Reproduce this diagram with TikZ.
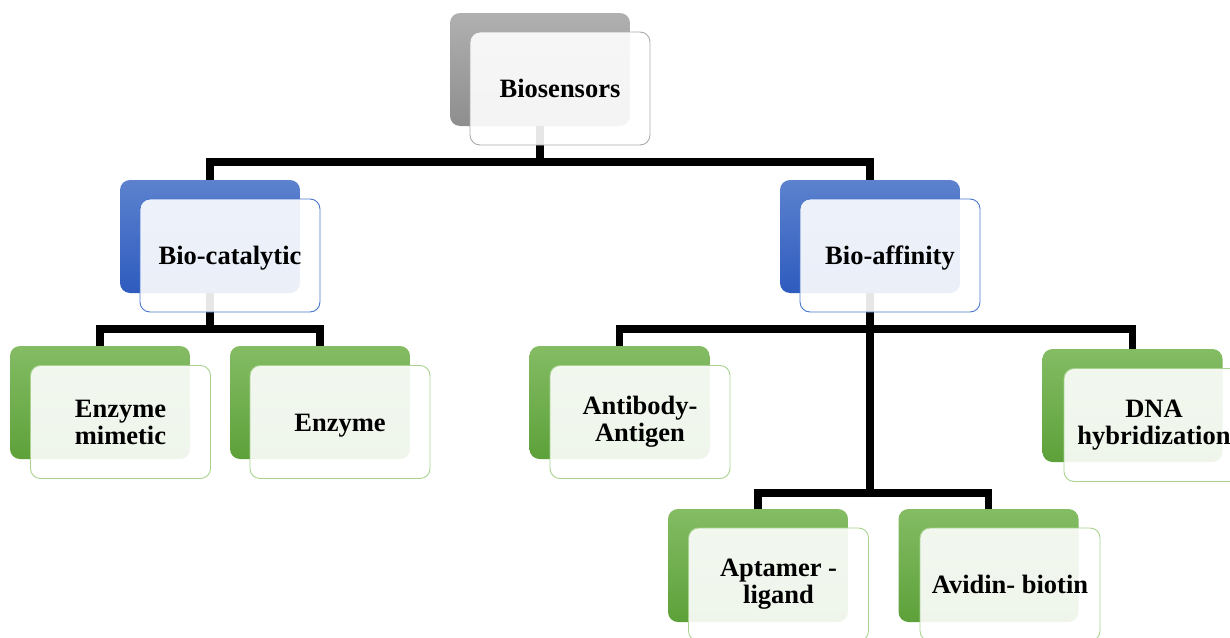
\documentclass[tikz,border=0pt]{standalone}
\usepackage{fontspec}
\setmainfont{Liberation Serif}
\usetikzlibrary{calc,backgrounds}
\definecolor{grayT}{HTML}{B0B0B0}
\definecolor{grayB}{HTML}{8E8E8E}
\definecolor{blueT}{HTML}{5C82CE}
\definecolor{blueB}{HTML}{2E5BBE}
\definecolor{greenT}{HTML}{84BC64}
\definecolor{greenB}{HTML}{5DA13A}
\definecolor{grayE}{HTML}{ABABAB}
\definecolor{blueE}{HTML}{4A78CC}
\definecolor{greenE}{HTML}{A8D28E}
\newcommand{\lowertxt}[2]{\raisebox{-#1}[\height][\depth]{#2}}
\begin{document}
\begin{tikzpicture}[x=1pt,y=-1pt,
  backbox/.style={rounded corners=10pt, minimum width=180pt, minimum height=113pt, inner sep=0pt, draw=none},
  grayback/.style={backbox, top color=grayT, bottom color=grayB},
  blueback/.style={backbox, top color=blueT, bottom color=blueB},
  greenback/.style={backbox, top color=greenT, bottom color=greenB},
  frontbox/.style={rounded corners=10pt, minimum width=180pt, minimum height=113pt, inner sep=0pt,
    fill=white, fill opacity=0.9, text opacity=1, draw opacity=1, line width=0.9pt, align=center,
    font=\fontsize{26.5}{27}\selectfont\bfseries},
  grayfront/.style={frontbox, draw=grayE},
  bluefront/.style={frontbox, draw=blueE},
  greenfront/.style={frontbox, draw=greenE},
  conn/.style={line width=7.5pt, draw=black, line join=miter}]
\useasboundingbox (0,0) rectangle (1230,637);
% bus levels
\coordinate (b1) at (0,162);
\coordinate (b2) at (0,329);
\coordinate (b3) at (0,493);
% back boxes
\node[grayback]  (bioB) at (540,69.5) {};
\node[blueback]  (catB) at (210,236.5) {};
\node[blueback]  (affB) at (870,236.5) {};
\node[greenback] (emB)  at (100,402.5) {};
\node[greenback] (enB)  at (320,402.5) {};
\node[greenback] (abB)  at (619.5,402.5) {};
\node[greenback] (dnaB) at (1132.5,405.5) {};
\node[greenback] (apB)  at (758,565.5) {};
\node[greenback] (avB)  at (988.5,565.5) {};
% connectors behind the boxes
\begin{scope}[on background layer]
\fill[white] (0,0) rectangle (1230,637);
\draw[conn] (bioB.center) -- (bioB.center |- b1);
\draw[conn] (catB.north) -- (catB.north |- b1) -- (affB.north |- b1) -- (affB.north);
\draw[conn] (catB.center) -- (catB.center |- b2);
\draw[conn] (emB.north) -- (emB.north |- b2) -- (enB.north |- b2) -- (enB.north);
\draw[conn] (affB.center) -- (affB.center |- b3);
\draw[conn] (abB.north) -- (abB.north |- b2) -- (dnaB.north |- b2) -- (dnaB.north);
\draw[conn] (apB.north) -- (apB.north |- b3) -- (avB.north |- b3) -- (avB.north);
\end{scope}
% front boxes
\node[grayfront]  (bio) at ($(bioB)+(20,19)$) {Biosensors};
\node[bluefront]  (cat) at ($(catB)+(20,19)$) {\lowertxt{3pt}{Bio-catalytic}};
\node[bluefront]  (aff) at ($(affB)+(20,19)$) {\lowertxt{3pt}{Bio-affinity}};
\node[greenfront] (em)  at ($(emB)+(20.5,19.5)$) {Enzyme\\mimetic};
\node[greenfront] (en)  at ($(enB)+(20,19.5)$) {\lowertxt{4pt}{Enzyme}};
\node[greenfront] (ab)  at ($(abB)+(20.5,19.5)$) {Antibody-\\Antigen};
\node[greenfront] (dna) at ($(dnaB)+(21.5,19.5)$) {DNA\\hybridization};
\node[greenfront] (ap)  at ($(apB)+(20.5,19)$) {Aptamer -\\ligand};
\node[greenfront] (av)  at ($(avB)+(21.5,19)$) {Avidin- biotin};
\end{tikzpicture}
\end{document}
